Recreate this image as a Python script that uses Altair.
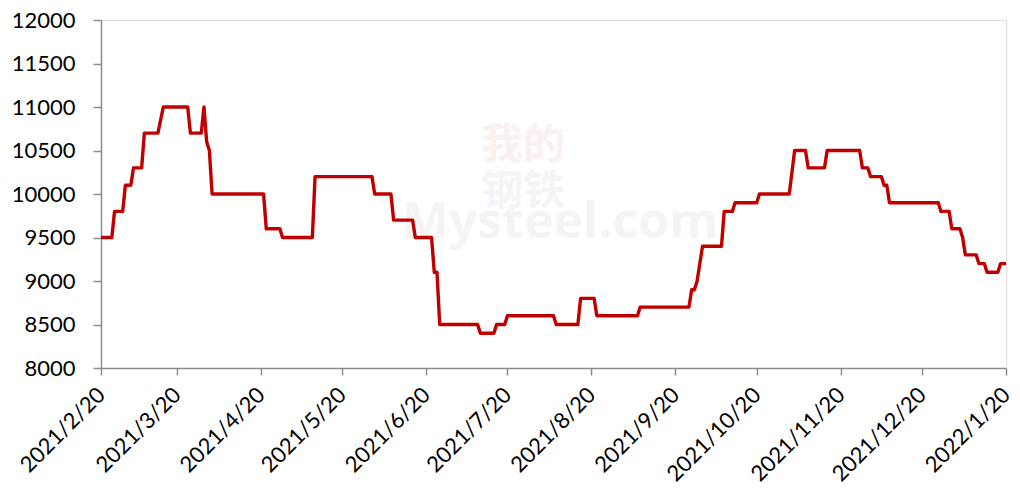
import altair as alt
import pandas as pd

dates = [
    "2021-02-20", "2021-02-24", "2021-02-25", "2021-02-28", "2021-03-01", "2021-03-03",
    "2021-03-04", "2021-03-07", "2021-03-08", "2021-03-13", "2021-03-15", "2021-03-24",
    "2021-03-25", "2021-03-29", "2021-03-30", "2021-03-31", "2021-04-01", "2021-04-02",
    "2021-04-21", "2021-04-22", "2021-04-27", "2021-04-28", "2021-05-09", "2021-05-10",
    "2021-05-31", "2021-06-01", "2021-06-07", "2021-06-08", "2021-06-15", "2021-06-16",
    "2021-06-22", "2021-06-23", "2021-06-24", "2021-06-25", "2021-07-09", "2021-07-10",
    "2021-07-15", "2021-07-16", "2021-07-19", "2021-07-20", "2021-08-06", "2021-08-07",
    "2021-08-15", "2021-08-16", "2021-08-21", "2021-08-22", "2021-09-06", "2021-09-07",
    "2021-09-25", "2021-09-26", "2021-09-27", "2021-09-28", "2021-09-30", "2021-10-07",
    "2021-10-08", "2021-10-11", "2021-10-12", "2021-10-20", "2021-10-21", "2021-11-01",
    "2021-11-03", "2021-11-07", "2021-11-08", "2021-11-14", "2021-11-15", "2021-11-27",
    "2021-11-28", "2021-11-30", "2021-12-01", "2021-12-05", "2021-12-06", "2021-12-07",
    "2021-12-08", "2021-12-26", "2021-12-27", "2021-12-30", "2021-12-31", "2022-01-03",
    "2022-01-04", "2022-01-05", "2022-01-09", "2022-01-10", "2022-01-12", "2022-01-13",
    "2022-01-17", "2022-01-18", "2022-01-20",
]
prices = [
    9500, 9500, 9800, 9800, 10100, 10100,
    10300, 10300, 10700, 10700, 11000, 11000,
    10700, 10700, 11000, 10600, 10500, 10000,
    10000, 9600, 9600, 9500, 9500, 10200,
    10200, 10000, 10000, 9700, 9700, 9500,
    9500, 9100, 9100, 8500, 8500, 8400,
    8400, 8500, 8500, 8600, 8600, 8500,
    8500, 8800, 8800, 8600, 8600, 8700,
    8700, 8900, 8900, 9000, 9400, 9400,
    9800, 9800, 9900, 9900, 10000, 10000,
    10500, 10500, 10300, 10300, 10500, 10500,
    10300, 10300, 10200, 10200, 10100, 10100,
    9900, 9900, 9800, 9800, 9600, 9600,
    9500, 9300, 9300, 9200, 9200, 9100,
    9100, 9200, 9200,
]
tick_dates = [
    "2021-02-20", "2021-03-20", "2021-04-20", "2021-05-20", "2021-06-20", "2021-07-20",
    "2021-08-20", "2021-09-20", "2021-10-20", "2021-11-20", "2021-12-20", "2022-01-20",
]
y_ticks = [8000, 8500, 9000, 9500, 10000, 10500, 11000, 11500, 12000]
watermark_cn = ["我的", "钢铁"]
watermark_en = ["Mysteel.com"]


def ms(s):
    return int(pd.Timestamp(s, tz="UTC").value // 10**6)


df = pd.DataFrame({"date": [ms(d) for d in dates], "price": prices})
tick_ms = [ms(d) for d in tick_dates]
one = pd.DataFrame({"k": [0]})

FONT = "Lato"
AXIS_COLOR = "#8C8C8C"

x_enc = alt.X(
    "date:T",
    scale=alt.Scale(type="utc", domain=[tick_ms[0], tick_ms[-1]]),
    axis=alt.Axis(
        values=tick_ms,
        labelExpr="utcFormat(datum.value, '%Y/%-m/%-d')",
        labelAngle=-45,
        labelAlign="right",
        labelBaseline="middle",
        labelPadding=16,
        labelFontSize=22,
        labelColor="#000000",
        labelFont=FONT,
        tickSize=7,
        tickColor=AXIS_COLOR,
        domainColor=AXIS_COLOR,
        domainWidth=1.5,
        tickWidth=1.5,
        grid=False,
        title=None,
        labelOverlap=False,
        labelFlush=False,
        labelBound=False,
    ),
)
y_enc = alt.Y(
    "price:Q",
    scale=alt.Scale(domain=[8000, 12000], nice=False, zero=False),
    axis=alt.Axis(
        values=y_ticks,
        format="d",
        labelFontSize=22,
        labelColor="#000000",
        labelFont=FONT,
        labelPadding=18,
        tickSize=8,
        tickColor=AXIS_COLOR,
        domainColor=AXIS_COLOR,
        domainWidth=1.5,
        tickWidth=1.5,
        grid=False,
        title=None,
    ),
)

line = alt.Chart(df).mark_line(color="#C00000", strokeWidth=3.4, strokeJoin="round").encode(
    x=x_enc, y=y_enc
)

wm_mys = alt.Chart(one).mark_text(
    text=watermark_en[0], fontSize=50, fontWeight="bold", font="Open Sans",
    color="#F4F4F4", align="center", baseline="middle"
).encode(x=alt.value(459), y=alt.value(203))
wm_cn1 = alt.Chart(one).mark_text(
    text=watermark_cn[0], fontSize=42, font="Noto Sans CJK SC", fontWeight="bold",
    color="#FAF0F0", align="center", baseline="middle"
).encode(x=alt.value(422), y=alt.value(126))
wm_cn2 = alt.Chart(one).mark_text(
    text=watermark_cn[1], fontSize=42, font="Noto Sans CJK SC", fontWeight="bold",
    color="#F3F4F8", align="center", baseline="middle"
).encode(x=alt.value(422), y=alt.value(172))

chart = alt.layer(wm_cn1, wm_cn2, wm_mys, line).properties(
    width=905,
    height=348,
    autosize=alt.AutoSizeParams(type="none"),
    padding={"left": 93, "top": 12, "right": 6, "bottom": 120},
).configure_view(stroke=None).configure(background="white")

chart.save("out.html", embed_options={"renderer": "svg", "actions": False})
